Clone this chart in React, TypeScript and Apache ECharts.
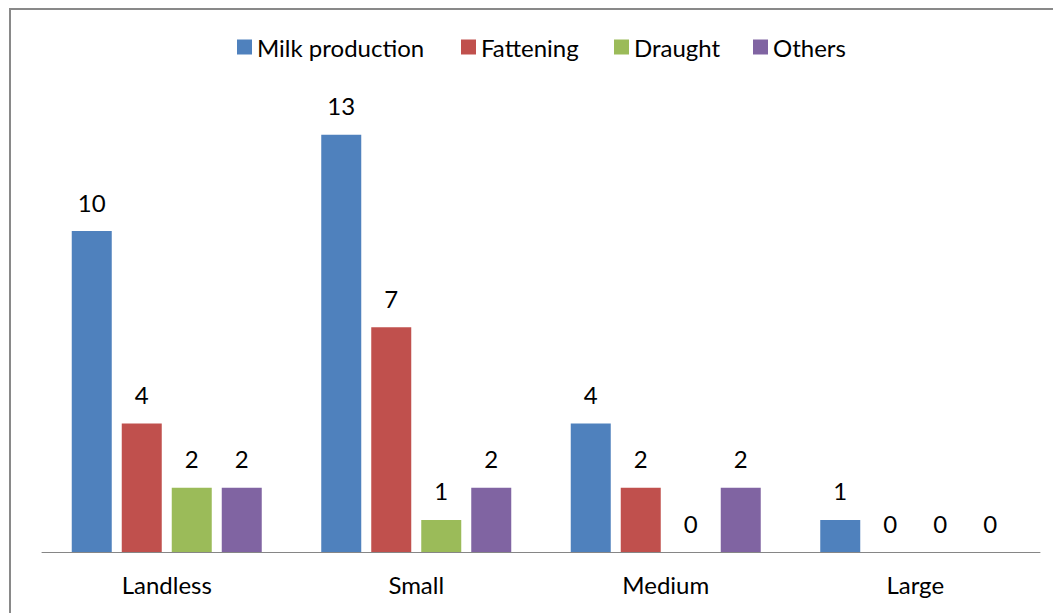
import React, { useEffect, useRef } from "react";
import * as echarts from "echarts";

const categories = ["Landless", "Small", "Medium", "Large"];
const seriesNames = ["Milk production", "Fattening", "Draught", "Others"];
const milkProduction = [10, 13, 4, 1];
const fattening = [4, 7, 2, 0];
const draught = [2, 1, 0, 0];
const others = [2, 2, 2, 0];
const colors = ["#4F81BD", "#C0504D", "#9BBB59", "#8064A2"];
const legendLefts = [237, 461, 614, 753];

const FONT = "Lato";

export default function App() {
  const ref = useRef<HTMLDivElement>(null);
  useEffect(() => {
    if (!ref.current) return;
    const chart = echarts.init(ref.current, undefined, { renderer: "svg" });
    const values = [milkProduction, fattening, draught, others];
    chart.setOption({
      animation: false,
      backgroundColor: "#ffffff",
      graphic: [
        {
          type: "rect",
          shape: { x: 10, y: 9, width: 1200, height: 800 },
          style: { fill: "none", stroke: "#898989", lineWidth: 2 },
          silent: true,
        },
      ],
      legend: seriesNames.map((n, i) => ({
        data: [n],
        left: legendLefts[i],
        top: 35,
        padding: 0,
        icon: "rect",
        itemWidth: 15,
        itemHeight: 15,
        itemGap: 0,
        textStyle: { fontFamily: FONT, fontSize: 24, color: "#000" },
        selectedMode: false,
      })),
      grid: { left: 42, right: 13, top: 102.6, bottom: 61, containLabel: false },
      xAxis: {
        type: "category",
        data: categories,
        axisLine: { lineStyle: { color: "#868686", width: 1 } },
        axisTick: { show: false },
        axisLabel: {
          fontFamily: FONT,
          fontSize: 24,
          color: "#000",
          margin: 20,
        },
      },
      yAxis: {
        type: "value",
        min: 0,
        max: 14,
        show: false,
        splitLine: { show: false },
      },
      series: seriesNames.map((n, i) => ({
        name: n,
        type: "bar",
        data: values[i],
        barWidth: 40,
        barGap: "25%",
        itemStyle: { color: colors[i] },
        label: {
          show: true,
          position: "top",
          distance: 17,
          fontFamily: FONT,
          fontSize: 24,
          color: "#000",
        },
      })),
    });
    return () => chart.dispose();
  }, []);
  return (
    <div
      ref={ref}
      style={{ position: "absolute", left: 0, top: 0, width: 1053, height: 613 }}
    />
  );
}
